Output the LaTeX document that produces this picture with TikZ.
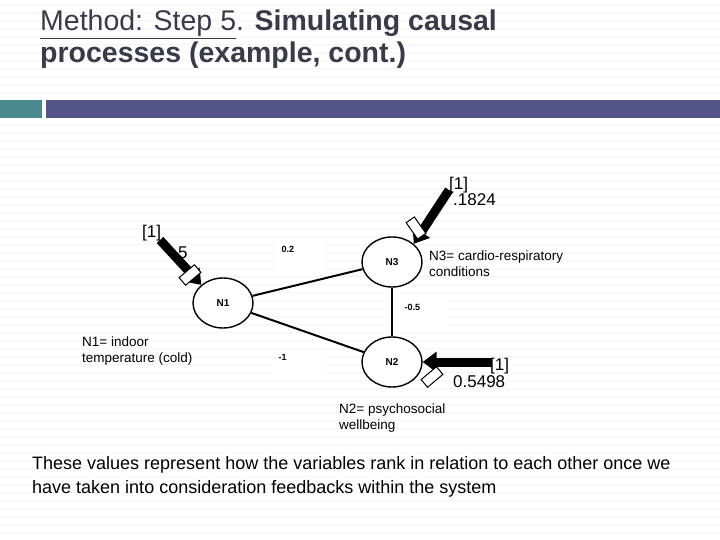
\documentclass[tikz,border=0pt]{standalone}
\usepackage{fontspec}
\setmainfont{Liberation Sans}
\usetikzlibrary{arrows.meta,shapes.geometric}
\definecolor{teal1}{HTML}{4A8A8C}
\definecolor{bar}{HTML}{535488}
\definecolor{ttl}{HTML}{3A3A48}
\begin{document}
\begin{tikzpicture}[x=1pt,y=-1pt,
  nd/.style={draw,line width=1.4pt,ellipse,fill=white,minimum width=60pt,minimum height=50pt,font=\bfseries\fontsize{10}{11}\selectfont},
  edge/.style={line width=2pt},
  wbox/.style={fill=white,minimum width=50pt,minimum height=30pt,anchor=north west,inner sep=2pt},
  wlab/.style={font=\bfseries\fontsize{9}{10}\selectfont,anchor=north west},
  fat/.style={line width=9pt,-{Triangle[length=14pt,width=20pt]}},
  glyph/.style={draw,line width=1pt,fill=white},
  txt/.style={font=\fontsize{13.5}{16}\selectfont,align=left,anchor=north west,inner sep=0pt},
  big/.style={font=\fontsize{17}{16}\selectfont,align=left,inner sep=0pt}]
\useasboundingbox (0,0) rectangle (720,540);
\fill[white] (0,0) rectangle (720,540);
\foreach \y in {4,12,...,540} \draw[gray!8,line width=0.8pt] (0,\y) -- (720,\y);
\node[anchor=north west,text=ttl,font=\fontsize{28.5}{32}\selectfont,align=left,inner sep=0pt] (title) at (40,10)
 {\underline{\mbox{Method: Step 5}}. \textbf{Simulating causal}\\\textbf{processes (example, cont.)}};
\fill[teal1] (0,100) rectangle (42,118);
\fill[bar] (46,100) rectangle (720,118);
% edge label boxes
\node[wbox] (b1) at (275,240) {}; \node[wlab] at (278,243) {0.2};
\node[wbox] (b2) at (398,297) {}; \node[wlab] at (401,301) {-0.5};
\node[wbox] (b3) at (273,350) {}; \node[wlab] at (275,351) {-1};
\node[nd] (N1) at (223,303) {N1};
\node[nd] (N3) at (392,262) {N3};
\node[nd] (N2) at (392,362) {N2};
\draw[edge] (N1) -- (N3);
\draw[edge] (N1) -- (N2);
\draw[edge] (N3) -- (N2);
% arrows
\coordinate (a1) at (160,240);
\draw[fat] (a1) -- (N1.north west);
\draw[glyph,rotate around={-50:(190,275)}] (185,265) rectangle (195,285);
\coordinate (a3) at (449,190);
\draw[fat] (a3) -- (N3.north east);
\draw[glyph,rotate around={35:(416,228)}] (411,218) rectangle (421,238);
\coordinate (a2) at (492,362);
\draw[fat] (a2) -- (N2.east);
\draw[glyph,rotate around={-50:(432,377)}] (427,367) rectangle (437,387);
% texts
\node[big,anchor=north west] (l1) at (142,225) {[1]};
\node[big,anchor=north west] (v1) at (178,247) {5};
\node[big,anchor=north west] (l3) at (449,177) {[1]\\\hspace*{4pt}.1824};
\node[big,anchor=north west] (l2) at (490,358) {[1]};
\node[big,anchor=north west] (v2) at (453,375) {0.5498};
\node[txt] (t1) at (82,337) {N1= indoor\\temperature (cold)};
\node[txt] (t3) at (429,251) {N3= cardio-respiratory\\conditions};
\node[txt] (t2) at (339,404) {N2= psychosocial\\wellbeing};
\node[anchor=north west,inner sep=0pt,font=\fontsize{18}{24}\selectfont,align=left] (foot) at (32,456)
 {These values represent how the variables rank in relation to each other once we\\have taken into consideration feedbacks within the system};
\end{tikzpicture}
\end{document}
